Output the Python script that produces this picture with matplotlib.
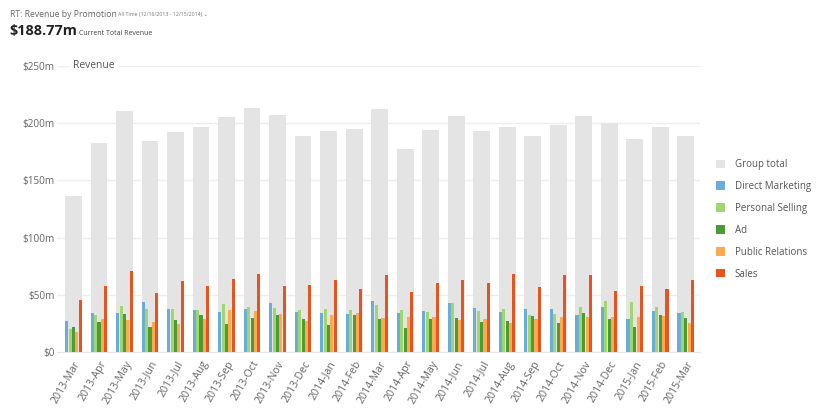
import numpy as np
import matplotlib
matplotlib.use("Agg")
import matplotlib.pyplot as plt
from matplotlib.patches import Patch

plt.rcParams['font.family'] = ['Open Sans', 'DejaVu Sans']

# ======== DATOS ========
months = ['2013-Mar', '2013-Apr', '2013-May', '2013-Jun', '2013-Jul', '2013-Aug',
          '2013-Sep', '2013-Oct', '2013-Nov', '2013-Dec', '2014-Jan', '2014-Feb',
          '2014-Mar', '2014-Apr', '2014-May', '2014-Jun', '2014-Jul', '2014-Aug',
          '2014-Sep', '2014-Oct', '2014-Nov', '2014-Dec', '2015-Jan', '2015-Feb',
          '2015-Mar']

group_total = [136, 183, 211, 184, 192, 197, 205, 213, 207, 189, 193, 195,
               212, 177, 194, 206, 193, 197, 189, 198, 206, 200, 186, 197, 189]
direct_marketing = [27, 33.7, 34.3, 43.9, 37.5, 36.6, 35.2, 37.5, 43, 34.6, 33.7, 32.8,
                    44.2, 33.7, 36, 42.4, 38.4, 35.2, 37.5, 37.5, 32, 39.2, 28.8, 35.5, 33.7]
personal_selling = [19.8, 32.6, 39.8, 37.2, 37.5, 36.6, 41.6, 39, 38.4, 36.9, 37.5, 36.9,
                    41, 36.9, 35.2, 42.4, 36, 37.5, 32, 33.4, 39, 44.8, 43.9, 39, 34.6]
ad = [22, 26.5, 33.4, 22, 27.9, 32.6, 24.7, 29.4, 32, 28.8, 23.3, 32,
      28.8, 20.9, 28.8, 29.7, 26.5, 27, 31.1, 25.6, 34.3, 28.8, 21.5, 32, 29.7]
public_relations = [17.4, 28.5, 27.9, 26.5, 24.1, 28.5, 36.6, 36, 32.8, 27, 32, 33.7,
                    29.7, 30.5, 30.5, 27.9, 28.8, 25.6, 28.5, 30.2, 30.2, 30.2, 30.2, 31.1, 25.6]
sales = [45.6, 57.6, 70.9, 51.2, 62.2, 57.6, 64, 68, 57.6, 58.4, 63.1, 55.2,
         67.4, 52, 59.9, 62.5, 59.9, 68, 56.7, 67.7, 67.2, 53.5, 57.6, 55.2, 62.5]

yticks = [0, 50, 100, 150, 200, 250]
ytick_labels = ['$0', '$50m', '$100m', '$150m', '$200m', '$250m']

series = [
    ('Direct Marketing', direct_marketing, '#6aaddb'),
    ('Personal Selling', personal_selling, '#9fd76e'),
    ('Ad', ad, '#4b9c35'),
    ('Public Relations', public_relations, '#fda94f'),
    ('Sales', sales, '#e9531f'),
]
GRAY = '#e4e4e4'

# ======== GRÁFICO ========
fig = plt.figure(figsize=(8.2, 4.2), dpi=100)
ax = fig.add_axes([0.07, 0.162, 0.784, 0.681])

x = np.arange(len(months))
group_w = 0.66
sub_w = group_w / len(series)

ax.bar(x, group_total, width=group_w, color=GRAY, zorder=2)
for i, (name, vals, col) in enumerate(series):
    offs = -group_w / 2 + sub_w * (i + 0.5)
    ax.bar(x + offs, vals, width=sub_w * 0.92, color=col, zorder=3)

ax.set_xlim(-0.63, len(months) - 1 + 0.57)
ax.set_ylim(0, 250)
ax.set_yticks(yticks)
ax.set_yticklabels(ytick_labels, fontsize=7.2, color='#666666')
ax.set_xticks(x)
ax.set_xticklabels(months, rotation=60, ha='right', rotation_mode='anchor',
                   fontsize=7.6, color='#666666')
ax.tick_params(axis='y', length=0, pad=2)
ax.tick_params(axis='x', length=0, pad=5)
ax.grid(axis='y', color='#eeeeee', linewidth=1, zorder=0)
for s in ['top', 'right', 'left']:
    ax.spines[s].set_visible(False)
ax.spines['bottom'].set_color('#e6e6e6')
ax.set_axisbelow(True)

ax.text(0.025, 250, 'Revenue', fontsize=7.4, color='#555555', va='center', ha='left',
        transform=ax.get_yaxis_transform(), zorder=4,
        bbox=dict(facecolor='white', edgecolor='none', pad=3))

handles = [Patch(facecolor=GRAY, label='Group total')]
handles += [Patch(facecolor=c, label=n) for n, v, c in series]
leg = fig.legend(handles=handles, loc='upper left', bbox_to_anchor=(0.862, 0.642),
                 frameon=False, fontsize=7, handlelength=0.95, handleheight=0.95,
                 labelspacing=1.12, handletextpad=1.0)
for t in leg.get_texts():
    t.set_color('#555555')

# ======== CABECERA ========
fig.text(0.012, 0.965, 'RT: Revenue by Promotion', fontsize=6.2, color='#666666',
         va='center')
fig.text(0.144, 0.965, 'All Time (12/16/2013 - 12/15/2014) \u2304', fontsize=3.8,
         color='#777777', va='center')
fig.text(0.012, 0.925, '$188.77m', fontsize=10.4, fontweight='bold', color='#222222',
         va='center')
fig.text(0.096, 0.921, 'Current Total Revenue', fontsize=5, color='#444444',
         va='center')

fig.savefig('out.png', dpi=100)
